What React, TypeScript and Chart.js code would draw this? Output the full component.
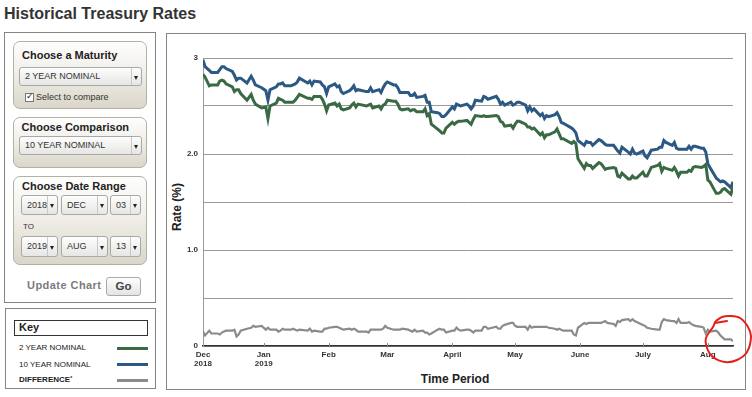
import React, { useEffect, useRef } from "react";
import { Chart, registerables } from "chart.js";

Chart.register(...registerables);

const FONT = '"Liberation Sans", Arial, Helvetica, sans-serif';

// ---- Data: trading days per month (Dec 2018 .. Aug 2019) ----
const DAYS_DEC18 = [3, 4, 6, 7, 10, 11, 12, 13, 14, 17, 18, 19, 20, 21, 24, 26, 27, 28, 31];
const DAYS_JAN19 = [2, 3, 4, 7, 8, 9, 10, 11, 14, 15, 16, 17, 18, 22, 23, 24, 25, 28, 29, 30, 31];
const DAYS_FEB19 = [1, 4, 5, 6, 7, 8, 11, 12, 13, 14, 15, 19, 20, 21, 22, 25, 26, 27, 28];
const DAYS_MAR19 = [1, 4, 5, 6, 7, 8, 11, 12, 13, 14, 15, 18, 19, 20, 21, 22, 25, 26, 27, 28, 29];
const DAYS_APR19 = [1, 2, 3, 4, 5, 8, 9, 10, 11, 12, 15, 16, 17, 18, 22, 23, 24, 25, 26, 29, 30];
const DAYS_MAY19 = [1, 2, 3, 6, 7, 8, 9, 10, 13, 14, 15, 16, 17, 20, 21, 22, 23, 24, 28, 29, 30, 31];
const DAYS_JUN19 = [3, 4, 5, 6, 7, 10, 11, 12, 13, 14, 17, 18, 19, 20, 21, 24, 25, 26, 27, 28];
const DAYS_JUL19 = [1, 2, 3, 5, 8, 9, 10, 11, 12, 15, 16, 17, 18, 19, 22, 23, 24, 25, 26, 29, 30, 31];
const DAYS_AUG19 = [1, 2, 5, 6, 7, 8, 9, 12, 13];

const MONTH_DAYS: [number, number, number[]][] = [
  [2018, 11, DAYS_DEC18],
  [2019, 0, DAYS_JAN19],
  [2019, 1, DAYS_FEB19],
  [2019, 2, DAYS_MAR19],
  [2019, 3, DAYS_APR19],
  [2019, 4, DAYS_MAY19],
  [2019, 5, DAYS_JUN19],
  [2019, 6, DAYS_JUL19],
  [2019, 7, DAYS_AUG19],
];

// 2 YEAR NOMINAL (%)
const TWO_YEAR = [
  2.83, 2.80, 2.71, 2.72, 2.72, 2.76, 2.77, 2.76, 2.73, 2.70, 2.65, 2.67, 2.67, 2.63, 2.56, 2.62, 2.56, 2.52, 2.48,
  2.49, 2.37, 2.50, 2.53, 2.58, 2.57, 2.56, 2.54, 2.54, 2.54, 2.56, 2.59, 2.62, 2.58, 2.58, 2.57, 2.60, 2.60, 2.57, 2.52, 2.45,
  2.51, 2.53, 2.50, 2.52, 2.47, 2.46, 2.48, 2.51, 2.53, 2.49, 2.52, 2.50, 2.51, 2.52, 2.48, 2.50, 2.47, 2.51, 2.52,
  2.56, 2.55, 2.55, 2.52, 2.47, 2.46, 2.47, 2.45, 2.46, 2.46, 2.44, 2.44, 2.47, 2.40, 2.42, 2.31, 2.26, 2.24, 2.22, 2.22, 2.27,
  2.33, 2.31, 2.33, 2.34, 2.34, 2.35, 2.33, 2.31, 2.36, 2.40, 2.39, 2.40, 2.39, 2.39, 2.40, 2.39, 2.34, 2.33, 2.29, 2.30, 2.27,
  2.31, 2.34, 2.34, 2.31, 2.28, 2.28, 2.26, 2.27, 2.20, 2.22, 2.17, 2.20, 2.20, 2.23, 2.26, 2.21, 2.16, 2.16, 2.11, 2.13, 2.11, 1.95,
  1.85, 1.90, 1.88, 1.88, 1.85, 1.91, 1.90, 1.87, 1.84, 1.85, 1.86, 1.85, 1.77, 1.76, 1.80, 1.74, 1.74, 1.77, 1.75, 1.75,
  1.81, 1.77, 1.77, 1.86, 1.88, 1.90, 1.82, 1.86, 1.85, 1.83, 1.86, 1.82, 1.77, 1.81, 1.81, 1.83, 1.82, 1.86, 1.87, 1.86, 1.87, 1.89,
  1.73, 1.71, 1.59, 1.59, 1.60, 1.63, 1.64, 1.58, 1.66,
];

// 10 YEAR NOMINAL (%)
const TEN_YEAR = [
  2.98, 2.91, 2.87, 2.85, 2.85, 2.88, 2.91, 2.91, 2.89, 2.86, 2.82, 2.77, 2.79, 2.79, 2.74, 2.81, 2.77, 2.72, 2.69,
  2.66, 2.56, 2.67, 2.70, 2.73, 2.73, 2.74, 2.71, 2.71, 2.72, 2.73, 2.75, 2.79, 2.74, 2.76, 2.72, 2.76, 2.75, 2.72, 2.70, 2.63,
  2.70, 2.73, 2.70, 2.71, 2.65, 2.63, 2.66, 2.68, 2.71, 2.66, 2.67, 2.65, 2.65, 2.69, 2.65, 2.67, 2.64, 2.69, 2.73,
  2.75, 2.72, 2.72, 2.69, 2.64, 2.64, 2.64, 2.61, 2.61, 2.63, 2.59, 2.60, 2.61, 2.54, 2.54, 2.44, 2.43, 2.42, 2.39, 2.39, 2.41,
  2.49, 2.47, 2.52, 2.51, 2.50, 2.52, 2.50, 2.47, 2.50, 2.56, 2.55, 2.60, 2.59, 2.57, 2.60, 2.57, 2.52, 2.54, 2.51, 2.54, 2.51,
  2.52, 2.54, 2.54, 2.51, 2.45, 2.49, 2.45, 2.47, 2.40, 2.42, 2.37, 2.40, 2.39, 2.41, 2.43, 2.39, 2.33, 2.32, 2.27, 2.25, 2.22, 2.14,
  2.09, 2.13, 2.12, 2.12, 2.09, 2.15, 2.14, 2.12, 2.10, 2.09, 2.09, 2.06, 2.03, 2.01, 2.07, 2.02, 2.00, 2.05, 2.01, 2.00,
  2.03, 1.98, 1.96, 2.04, 2.05, 2.07, 2.07, 2.14, 2.12, 2.09, 2.12, 2.06, 2.05, 2.05, 2.05, 2.08, 2.05, 2.08, 2.08, 2.06, 2.06, 2.02,
  1.90, 1.86, 1.75, 1.73, 1.71, 1.72, 1.71, 1.65, 1.71,
];

// Axis ticks
const START_DATE: [number, number, number] = [2018, 11, 3];
const END_DATE: [number, number, number] = [2019, 7, 13];
const TICK_DATES: [number, number, number][] = [
  [2018, 11, 3], [2019, 0, 1], [2019, 1, 1], [2019, 2, 1], [2019, 3, 1],
  [2019, 4, 1], [2019, 5, 1], [2019, 6, 1], [2019, 7, 1],
];
const TICK_LABELS: (string | string[])[] = [
  ["Dec", "2018"], ["Jan", "2019"], "Feb", "Mar", "April", "May", "June", "July", "Aug",
];
const Y_TICK_LABELS: Record<string, string> = { "0": "0", "1": "1.0", "2": "2.0", "3": "3" };

const COLOR_TWO = "#3a6a43";
const COLOR_TEN = "#2b5984";
const COLOR_DIFF = "#8b8b8b";

const DAY = 86400000;
const dayOffset = (y: number, m: number, d: number) =>
  Math.round((Date.UTC(y, m, d) - Date.UTC(...START_DATE)) / DAY);

function buildPoints() {
  const xs: number[] = [];
  MONTH_DAYS.forEach(([y, m, days]) => days.forEach((d) => xs.push(dayOffset(y, m, d))));
  const n = Math.min(xs.length, TWO_YEAR.length, TEN_YEAR.length);
  const two = [], ten = [], diff = [];
  for (let i = 0; i < n; i++) {
    two.push({ x: xs[i], y: TWO_YEAR[i] });
    ten.push({ x: xs[i], y: TEN_YEAR[i] });
    diff.push({ x: xs[i], y: Math.round((TEN_YEAR[i] - TWO_YEAR[i]) * 100) / 100 });
  }
  return { two, ten, diff };
}

// Canvas placement on page
const CV_LEFT = 166;
const CV_TOP = 33;
const CV_W = 586;
const CV_H = 364;

// Hand-drawn red mark (page coords)
const RED_LOOP: [number, number][] = [
  [715, 322], [713, 327], [706, 338], [707, 348], [713, 357], [725, 362], [737, 360],
  [747, 352], [751, 337], [748, 327], [740, 318], [730, 316], [722, 317], [716, 321],
];
const RED_DASH: [number, number][] = [[715, 323], [727, 321]];

const ChartCanvas: React.FC = () => {
  const ref = useRef<HTMLCanvasElement | null>(null);
  useEffect(() => {
    if (!ref.current) return;
    const { two, ten, diff } = buildPoints();
    const tickValues = TICK_DATES.map((t) => dayOffset(...t));

    const innerTicks = {
      id: "innerTicks",
      afterDraw(chart: any) {
        const ctx = chart.ctx;
        const xs = chart.scales.x;
        const bottom = chart.chartArea.bottom;
        ctx.save();
        ctx.strokeStyle = "#8a8a8a";
        ctx.lineWidth = 1;
        tickValues.forEach((v, i) => {
          if (i === 0) return;
          const px = Math.round(xs.getPixelForValue(v)) + 0.5;
          ctx.beginPath();
          ctx.moveTo(px, bottom - 3);
          ctx.lineTo(px, bottom);
          ctx.stroke();
        });
        ctx.restore();
      },
    };

    const redMark = {
      id: "redMark",
      afterDraw(chart: any) {
        const ctx = chart.ctx;
        const pts = RED_LOOP.map(([x, y]) => [x - CV_LEFT, y - CV_TOP]);
        ctx.save();
        ctx.strokeStyle = "#e3201c";
        ctx.lineWidth = 2;
        ctx.lineCap = "round";
        ctx.lineJoin = "round";
        ctx.beginPath();
        ctx.moveTo(pts[0][0], pts[0][1]);
        for (let i = 0; i < pts.length - 1; i++) {
          const p0 = pts[Math.max(0, i - 1)];
          const p1 = pts[i];
          const p2 = pts[i + 1];
          const p3 = pts[Math.min(pts.length - 1, i + 2)];
          const c1x = p1[0] + (p2[0] - p0[0]) / 6;
          const c1y = p1[1] + (p2[1] - p0[1]) / 6;
          const c2x = p2[0] - (p3[0] - p1[0]) / 6;
          const c2y = p2[1] - (p3[1] - p1[1]) / 6;
          ctx.bezierCurveTo(c1x, c1y, c2x, c2y, p2[0], p2[1]);
        }
        ctx.stroke();
        ctx.beginPath();
        ctx.moveTo(RED_DASH[0][0] - CV_LEFT, RED_DASH[0][1] - CV_TOP);
        ctx.lineTo(RED_DASH[1][0] - CV_LEFT, RED_DASH[1][1] - CV_TOP);
        ctx.stroke();
        ctx.restore();
      },
    };

    const chart = new Chart(ref.current, {
      type: "line",
      data: {
        datasets: [
          { label: "DIFFERENCE*", data: diff, borderColor: COLOR_DIFF, borderWidth: 2.2, pointRadius: 0, tension: 0, fill: false },
          { label: "2 YEAR NOMINAL", data: two, borderColor: COLOR_TWO, borderWidth: 3, pointRadius: 0, tension: 0, fill: false },
          { label: "10 YEAR NOMINAL", data: ten, borderColor: COLOR_TEN, borderWidth: 3, pointRadius: 0, tension: 0, fill: false },
        ],
      },
      options: {
        responsive: false,
        animation: false,
        devicePixelRatio: 1,
        layout: { padding: { top: 25, right: 19, left: 0, bottom: 0 } },
        plugins: { legend: { display: false }, tooltip: { enabled: false } },
        scales: {
          x: {
            type: "linear",
            min: 0,
            max: dayOffset(...END_DATE),
            afterFit: (s: any) => { s.height = 51; },
            afterBuildTicks: (s: any) => { s.ticks = tickValues.map((v) => ({ value: v })); },
            ticks: {
              autoSkip: false,
              maxRotation: 0,
              padding: 4,
              color: "#333",
              font: { family: FONT, size: 8, weight: "bold", lineHeight: 1.15 },
              callback: (v: any) => {
                const i = tickValues.indexOf(Number(v));
                return i >= 0 ? TICK_LABELS[i] : "";
              },
            },
            grid: { display: false, drawTicks: false },
            border: { display: true, color: "#333", width: 1.5 },
          },
          y: {
            min: 0,
            max: 3,
            afterFit: (s: any) => { s.width = 37; },
            ticks: {
              stepSize: 0.5,
              padding: 5,
              color: "#333",
              font: { family: FONT, size: 8, weight: "bold" },
              callback: (v: any) => Y_TICK_LABELS[String(v)] ?? "",
            },
            grid: { color: "#9a9a9a", lineWidth: 1, drawTicks: false },
            border: { display: true, color: "#9a9a9a", width: 1 },
          },
        },
      },
      plugins: [innerTicks, redMark],
    } as any);
    return () => chart.destroy();
  }, []);
  return (
    <canvas
      ref={ref}
      width={CV_W}
      height={CV_H}
      style={{ position: "absolute", left: CV_LEFT, top: CV_TOP, width: CV_W, height: CV_H }}
    />
  );
};

const Txt: React.FC<{
  x: number; cy: number; size: number; bold?: boolean; color?: string;
  children: React.ReactNode; style?: React.CSSProperties;
}> = ({ x, cy, size, bold, color, children, style }) => (
  <div
    style={{
      position: "absolute", left: x, top: cy - size * 0.6, fontSize: size,
      lineHeight: `${size * 1.2}px`, fontWeight: bold ? 700 : 400, color: color || "#222",
      whiteSpace: "nowrap", fontFamily: FONT, ...style,
    }}
  >
    {children}
  </div>
);

const Panel: React.FC<{ x: number; y: number; w: number; h: number }> = ({ x, y, w, h }) => (
  <div
    style={{
      position: "absolute", left: x, top: y, width: w, height: h, boxSizing: "border-box",
      border: "1px solid #b3b0a6", borderRadius: 7,
      background: "linear-gradient(#fefefd 0%, #f1efe9 45%, #dad6c9 100%)",
    }}
  />
);

const Select: React.FC<{ x: number; y: number; w: number; h: number; text: string; size?: number; arrowW?: number }> = ({
  x, y, w, h, text, size = 9, arrowW = 9,
}) => (
  <div
    style={{
      position: "absolute", left: x, top: y, width: w, height: h, boxSizing: "border-box",
      border: "1px solid #a8a8a8", borderRadius: 3,
      background: "linear-gradient(#fdfdfd, #e6e6e4)", fontFamily: FONT,
    }}
  >
    <div style={{ position: "absolute", left: 5, top: 0, height: h - 2, lineHeight: `${h - 2}px`, fontSize: size, color: "#333", whiteSpace: "nowrap" }}>
      {text}
    </div>
    <div style={{ position: "absolute", right: 0, top: 0, width: arrowW, height: h - 2, borderLeft: "1px solid #c9c9c9" }}>
      <div
        style={{
          position: "absolute", left: (arrowW - 6) / 2, top: (h - 2) / 2 - 1, width: 0, height: 0,
          borderLeft: "2.5px solid transparent", borderRight: "2.5px solid transparent", borderTop: "4px solid #222",
        }}
      />
    </div>
  </div>
);

const App: React.FC = () => {
  return (
    <div style={{ position: "fixed", left: 0, top: 0, width: 752, height: 397, background: "#fff", overflow: "hidden", fontFamily: FONT }}>
      <Txt x={4} cy={13.3} size={16} bold color="#333">Historical Treasury Rates</Txt>

      {/* Left control panel */}
      <div style={{ position: "absolute", left: 4, top: 32, width: 152, height: 271, boxSizing: "border-box", border: "1px solid #858585" }} />

      <Panel x={13} y={41} w={134} h={68} />
      <Txt x={22} cy={55.3} size={11} bold>Choose a Maturity</Txt>
      <Select x={19} y={67} w={123} h={19} text="2 YEAR NOMINAL" />
      <div style={{ position: "absolute", left: 25, top: 93, width: 8, height: 8 }}>
        <div style={{ position: "absolute", left: 0, top: 0, width: 7, height: 7, border: "1px solid #777", background: "#fff", boxSizing: "content-box" }} />
        <div style={{ position: "absolute", left: 1, top: -3, fontSize: 9, lineHeight: "12px", color: "#222" }}>✓</div>
      </div>
      <Txt x={36} cy={97.5} size={9} color="#333">Select to compare</Txt>

      <Panel x={13} y={117} w={134} h={51} />
      <Txt x={21.5} cy={128} size={11} bold>Choose Comparison</Txt>
      <Select x={19} y={136} w={123} h={19} text="10 YEAR NOMINAL" />

      <Panel x={13} y={176} w={134} h={89} />
      <Txt x={22} cy={186.3} size={11} bold>Choose Date Range</Txt>
      <Select x={21} y={195} w={37} h={20} text="2018" />
      <Select x={61} y={195} w={47} h={20} text="DEC" />
      <Select x={110} y={195} w={31} h={20} text="03" />
      <Txt x={23} cy={226.7} size={8} color="#333">TO</Txt>
      <Select x={21} y={236} w={37} h={21} text="2019" />
      <Select x={61} y={236} w={47} h={21} text="AUG" />
      <Select x={110} y={236} w={31} h={21} text="13" />

      <Txt x={27} cy={286} size={11} bold color="#7b7b7b" style={{ letterSpacing: 0.45 }}>Update Chart</Txt>
      <div
        style={{
          position: "absolute", left: 106, top: 277, width: 35, height: 19, boxSizing: "border-box",
          border: "1px solid #a9a9a9", borderRadius: 3, background: "linear-gradient(#fdfdfd, #e4e4e2)",
          textAlign: "center", lineHeight: "17px", fontSize: 11.5, fontWeight: 700, color: "#444",
        }}
      >
        Go
      </div>

      {/* Key */}
      <div style={{ position: "absolute", left: 5, top: 308, width: 151, height: 81, boxSizing: "border-box", border: "1px solid #858585" }} />
      <div style={{ position: "absolute", left: 14, top: 320, width: 134, height: 16, boxSizing: "border-box", border: "1px solid #333" }} />
      <Txt x={19} cy={327.5} size={11} bold>Key</Txt>
      <Txt x={19} cy={348} size={8} color="#222">2 YEAR NOMINAL</Txt>
      <Txt x={19} cy={364.5} size={8} color="#222">10 YEAR NOMINAL</Txt>
      <Txt x={19} cy={379.7} size={8} bold color="#222">
        DIFFERENCE<span style={{ fontSize: 5, verticalAlign: "top", position: "relative", top: -1 }}>*</span>
      </Txt>
      <div style={{ position: "absolute", left: 117, top: 346.5, width: 31, height: 3, background: COLOR_TWO }} />
      <div style={{ position: "absolute", left: 117, top: 363, width: 31, height: 3, background: COLOR_TEN }} />
      <div style={{ position: "absolute", left: 117, top: 379, width: 31, height: 2.5, background: COLOR_DIFF }} />

      {/* Chart frame */}
      <div style={{ position: "absolute", left: 166, top: 33, width: 580, height: 357, boxSizing: "border-box", border: "1px solid #858585" }} />
      <div
        style={{
          position: "absolute", left: 177 - 40, top: 206.5 - 8, width: 80, height: 16, lineHeight: "16px",
          textAlign: "center", transform: "rotate(-90deg)", fontSize: 12, fontWeight: 700, color: "#222", whiteSpace: "nowrap",
        }}
      >
        Rate (%)
      </div>
      <div
        style={{
          position: "absolute", left: 455 - 60, top: 379 - 8, width: 120, height: 16, lineHeight: "16px",
          textAlign: "center", fontSize: 12, fontWeight: 700, color: "#222", whiteSpace: "nowrap",
        }}
      >
        Time Period
      </div>

      <ChartCanvas />
    </div>
  );
};

export default App;
